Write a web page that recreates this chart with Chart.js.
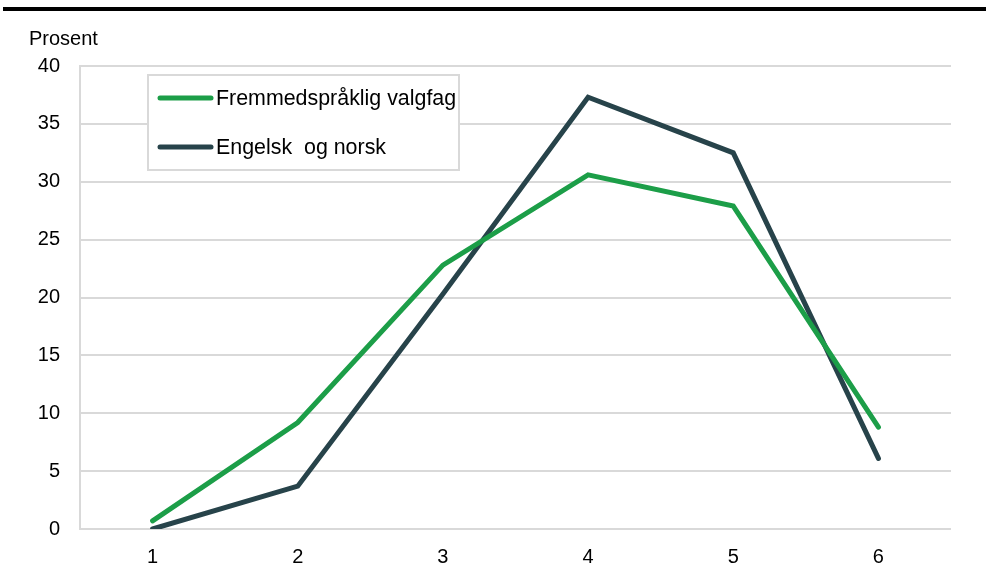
<!DOCTYPE html>
<html>
<head>
<meta charset="utf-8">
<script src="https://cdn.jsdelivr.net/npm/chart.js@4.4.1/dist/chart.umd.min.js"></script>
<style>
  html, body { margin: 0; padding: 0; background: #fff; }
  #wrap { position: relative; width: 986px; height: 586px; }
  #rule { position: absolute; left: 3px; top: 7px; width: 983px; height: 4px; background: #000; }
  canvas { position: absolute; left: 0; top: 0; }
</style>
</head>
<body>
<div id="wrap">
  <canvas id="chart" width="986" height="586"></canvas>
  <div id="rule"></div>
</div>
<script>
// data
const categories = ['1', '2', '3', '4', '5', '6'];
const fremmedsprak = [0.7, 9.2, 22.8, 30.6, 27.9, 8.8];
const engelskNorsk = [0.0, 3.7, 20.3, 37.3, 32.5, 6.1];
const seriesNames = ['Fremmedspråklig valgfag', 'Engelsk  og norsk'];
const yTicks = [0, 5, 10, 15, 20, 25, 30, 35, 40];

const FONT = "'Liberation Sans', Arial, sans-serif";

// legend box inside the plot + "Prosent" label
const extras = {
  id: 'extras',
  afterDraw(chart) {
    const ctx = chart.ctx;
    ctx.save();
    ctx.fillStyle = '#000';
    ctx.font = '20px ' + FONT;
    ctx.textBaseline = 'middle';
    ctx.textAlign = 'left';
    ctx.fillText('Prosent', 29, 39);

    // legend
    ctx.fillStyle = '#fff';
    ctx.fillRect(148, 75, 311, 95);
    ctx.strokeStyle = '#d9d9d9';
    ctx.lineWidth = 2;
    ctx.strokeRect(148, 75, 311, 95);
    const rows = [98, 147];
    chart.data.datasets.forEach((ds, i) => {
      ctx.strokeStyle = ds.borderColor;
      ctx.lineWidth = 5;
      ctx.lineCap = 'round';
      ctx.beginPath();
      ctx.moveTo(160, rows[i]);
      ctx.lineTo(211, rows[i]);
      ctx.stroke();
      ctx.fillStyle = '#000';
      ctx.font = '21.4px ' + FONT;
      ctx.fillText(ds.label, 216, rows[i] + 1);
    });
    ctx.restore();
  }
};

new Chart(document.getElementById('chart'), {
  type: 'line',
  data: {
    labels: categories,
    datasets: [
      { label: seriesNames[0], data: fremmedsprak, borderColor: '#1c9e48', borderWidth: 5,
        borderCapStyle: 'round', borderJoinStyle: 'miter', pointRadius: 0, tension: 0 },
      { label: seriesNames[1], data: engelskNorsk, borderColor: '#27434a', borderWidth: 5,
        borderCapStyle: 'round', borderJoinStyle: 'miter', pointRadius: 0, tension: 0 }
    ]
  },
  options: {
    responsive: false,
    animation: false,
    layout: { padding: { left: 0, top: 66, right: 35, bottom: 0 } },
    plugins: { legend: { display: false }, tooltip: { enabled: false } },
    scales: {
      x: {
        offset: true,
        grid: { display: false },
        border: { display: false },
        ticks: { color: '#000', font: { family: FONT, size: 20 }, padding: 8, maxRotation: 0 },
        afterFit(s) { s.height = 57; }
      },
      y: {
        min: 0, max: 40,
        afterBuildTicks(s) { s.ticks = yTicks.map(v => ({ value: v })); },
        grid: { color: '#d9d9d9', lineWidth: 2, drawTicks: false },
        border: { display: true, color: '#d9d9d9', width: 2 },
        ticks: { color: '#000', font: { family: FONT, size: 20 }, padding: 20 },
        afterFit(s) { s.width = 80; }
      }
    }
  },
  plugins: [extras]
});
</script>
</body>
</html>
